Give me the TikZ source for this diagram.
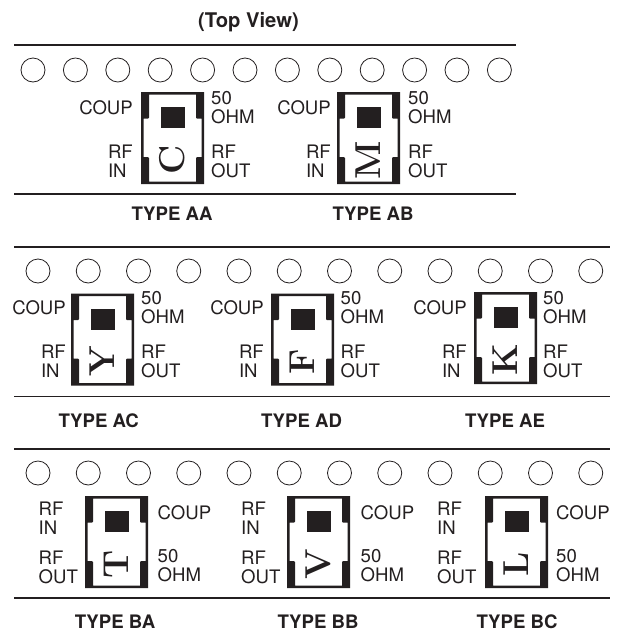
\documentclass[tikz,border=0pt]{standalone}
\usepackage{fontspec}
\newfontfamily\lab{TeX Gyre Heros}
\definecolor{ink}{HTML}{231F20}
\tikzset{
  x=1pt,y=-1pt,
  rulebar/.style={draw=ink,line width=1.9pt},
  pinhole/.style={circle,draw=ink,line width=0.8pt,minimum size=24pt,inner sep=0pt},
  lbl/.style={font=\lab\fontsize{18.6}{19}\selectfont,text=ink,inner sep=0pt,align=left},
  typelbl/.style={font=\lab\bfseries\fontsize{18.6}{18.6}\selectfont,text=ink,inner sep=0pt},
  titlelbl/.style={font=\lab\bfseries\fontsize{20.2}{20.2}\selectfont,text=ink,inner sep=0pt},
  glyph/.style={font=\normalfont\bfseries\fontsize{36}{36}\selectfont,text=ink,inner sep=0pt,rotate=90},
}
% body of a package: #1 x0, #2 y0, #3 letter
\newcommand{\pkgbody}[3]{%
  \begin{scope}[shift={(#1,#2)}]
    \fill[ink,even odd rule] (0,0) rectangle (63,92)
      (8,2.5) -- (55,2.5) -- (55,25.5) -- (56,26.5) -- (60.5,26.5) -- (60.5,65) -- (56,65) -- (55,66)
      -- (55,89.5) -- (8,89.5) -- (8,66) -- (7,65) -- (2.5,65) -- (2.5,26.5) -- (7,26.5) -- (8,25.5) -- cycle;
    \fill[ink] (19.5,15) rectangle (43.5,36);
    \node[glyph] (letter#3) at (31.5,68) {#3};
  \end{scope}}
% side-by-side labels: #1 x0, #2 y0, #3 letter, #4 right edge of left labels, #5 left edge of right labels, #6 label base y
\newcommand{\pkgA}[6]{%
  \pkgbody{#1}{#2}{#3}%
  \node[lbl,anchor=east] (coup#3) at (#4,#6+15.5) {COUP};
  \node[lbl,anchor=west] (ohm#3) at (#5,#6+15.5) {50\\OHM};
  \node[lbl,anchor=east] (in#3) at (#4,#6+69.5) {RF\\IN};
  \node[lbl,anchor=west] (out#3) at (#5,#6+69.5) {RF\\OUT};}
% #4 left edge of left labels, #5 left edge of right labels
\newcommand{\pkgB}[5]{%
  \pkgbody{#1}{#2}{#3}%
  \node[lbl,anchor=west] (in#3) at (#4,#2+22) {RF\\IN};
  \node[lbl,anchor=west] (out#3) at (#4,#2+71) {RF\\OUT};
  \node[lbl,anchor=west] (coup#3) at (#5,#2+17) {COUP};
  \node[lbl,anchor=west] (ohm#3) at (#5,#2+70) {50\\OHM};}
\begin{document}
\begin{tikzpicture}
\useasboundingbox (0,0) rectangle (618,630);
\node[titlelbl] (title) at (248.5,22) {(Top View)};
% rules
\draw[rulebar] (14,45) -- (516,45);
\draw[rulebar] (14,194) -- (516,194);
\draw[rulebar] (14,247) -- (610,247);
\draw[rulebar] (14,396.5) -- (610,396.5);
\draw[rulebar] (14,449) -- (610,449);
\draw[rulebar] (14,598) -- (610,598);
% pin holes
\foreach \i in {0,...,11} {
  \node[pinhole] (pa\i) at ({33+\i*42.4},70) {};
  \node[pinhole] (pb\i) at ({38+\i*50.25},271) {};
  \node[pinhole] (pc\i) at ({38+\i*50.25},473) {};
}
% packages
\pkgA{141}{92}{C}{133}{211}{92}
\pkgA{337}{92}{M}{331}{408}{92}
\pkgA{71}{293.5}{Y}{66}{141}{292}
\pkgA{271}{293.5}{F}{264}{340.5}{292}
\pkgA{474}{292}{K}{467}{543}{292}
\pkgB{85}{496}{T}{38.5}{157.5}
\pkgB{287}{496}{V}{241}{360.5}
\pkgB{485}{496}{L}{437}{556}
% type names
\node[typelbl] (ta) at (172,214) {TYPE AA};
\node[typelbl] (tb) at (373,214) {TYPE AB};
\node[typelbl] (tc) at (98.7,420.5) {TYPE AC};
\node[typelbl] (td) at (301.5,420.5) {TYPE AD};
\node[typelbl] (te) at (505,420.5) {TYPE AE};
\node[typelbl] (tf) at (115,621.5) {TYPE BA};
\node[typelbl] (tg) at (318,621.5) {TYPE BB};
\node[typelbl] (th) at (517,621.5) {TYPE BC};
\end{tikzpicture}
\end{document}
